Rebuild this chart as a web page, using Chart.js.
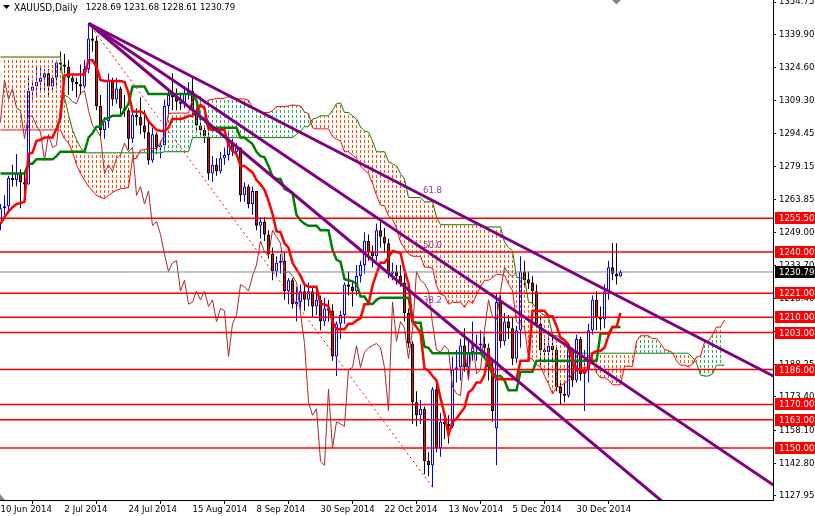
<!DOCTYPE html>
<html>
<head>
<meta charset="utf-8">
<script src="https://cdn.jsdelivr.net/npm/chart.js@4.4.1/dist/chart.umd.min.js"></script>
<style>
html,body{margin:0;padding:0;background:#ffffff;overflow:hidden;}
canvas{display:block;}
</style>
</head>
<body>
<canvas id="c" width="815" height="516"></canvas>
<script>
// ---------------- DATA ----------------
const symbolTitle = 'XAUUSD,Daily';
const tickBars = [0, 16, 32, 48, 64, 80, 96, 112, 128, 144];
const tickLabels = ['10 Jun 2014','2 Jul 2014','24 Jul 2014','15 Aug 2014','8 Sep 2014','30 Sep 2014','22 Oct 2014','13 Nov 2014','5 Dec 2014','30 Dec 2014'];
const priceTicks = [1354.75,1339.90,1324.60,1309.30,1294.45,1279.15,1263.85,1249.00,1233.70,1218.40,1203.55,1188.25,1173.40,1158.10,1142.80,1127.95];

const opens = [1253,1260,1261,1274,1273,1276,1272,1271,1314,1316,
1318,1320,1322,1316,1320,1327,1326,1325,1320,1318,
1317,1316,1324,1338,1337,1307,1296,1300,1319,1310,
1315,1306,1305,1292,1303,1302,1298,1295,1282,1294,
1288,1289,1307,1312,1311,1309,1308,1313,1314,1305,
1298,1296,1293,1276,1280,1277,1283,1284.5,1290,1286,
1288,1266,1270,1262,1268,1252,1254,1248,1239,1231,
1235,1236,1222,1227,1216,1217,1222,1218,1222,1215,
1218,1208,1214,1213,1192,1207,1211,1225,1224,1222,
1229,1234,1245,1240,1238,1250,1247,1244,1230,1231,
1229,1226,1212,1198,1171,1165,1168,1144,1142,1177,
1150,1162,1161,1160,1186,1187,1197,1187,1194,1196,
1197,1198,1196,1187,1159,1217,1199,1208,1205,1191,
1204,1231,1227.5,1226,1222,1207,1195,1194,1197,1195,
1178,1175,1174,1195,1181,1200,1184,1186,1204,1218,
1210,1209,1222,1233,1230,1228.69];

const highs = [1262,1266,1275,1280,1285,1278,1276,1321,1319,1325,
1325,1324,1324,1321,1328,1332,1331,1328,1321,1320,
1326,1328,1345,1344,1339,1312,1302,1322,1320,1320,
1316,1312,1306,1305,1306,1311,1305,1300,1297,1295,
1291,1310,1314,1322,1315,1312,1316,1318,1320,1306,
1301,1298,1296,1284,1283,1286,1288,1296,1292,1290,
1288,1272,1271,1270,1268,1256,1256,1250,1242,1238,
1239,1240,1228,1228,1224,1225,1225,1226,1224,1222,
1220,1219,1218,1216,1208,1213,1226,1231,1226,1234,
1236,1249,1248,1243,1253,1255,1251,1246,1235,1234,
1234,1230,1214,1199,1176,1172,1169,1148,1178,1180,
1166,1166,1165,1192,1195,1200,1205,1199,1208,1202,
1204,1201,1198,1191,1221,1220,1212,1211,1210,1206,
1238,1236,1231,1229,1225,1210,1200,1202,1202,1196,
1180,1180,1197,1196,1202,1201,1195,1207,1220,1222,
1215,1225,1236,1244,1244,1231.68];

const lows = [1250,1257,1258,1270,1270,1260,1265,1271,1310,1312,
1313,1314,1311,1313,1315,1323,1322,1312,1314,1311,
1312,1315,1322,1332,1305,1293,1292,1297,1307,1308,
1303,1302,1287,1290,1298,1294,1292,1280,1281,1285,
1283,1287,1303,1305,1305,1305,1306,1310,1303,1296,
1293,1290,1273,1272,1275,1276,1280,1282,1284,1284,
1263,1263,1260,1257,1250,1246,1245,1237,1227,1229,
1230,1218,1216,1214,1208,1214,1213,1215,1210,1211,
1204,1206,1208,1190,1183,1200,1207,1220,1215,1220,
1226,1230,1236,1233,1236,1242,1240,1228,1227,1225,
1224,1208,1196,1161,1160,1161,1138,1137,1132,1148,
1146,1154,1152,1159,1180,1181,1185,1182,1190,1190,
1193,1192,1181,1162,1142,1196,1197,1200,1188,1189,
1196,1224,1223,1216,1205,1188,1190,1183,1190,1176,
1170,1171,1173,1178,1180,1181,1167,1180,1202,1204,
1204,1205,1218,1227,1225,1228.61];

const closes = [1260,1261,1274,1273,1276,1272,1271,1314,1316,1318,
1320,1322,1316,1320,1327,1326,1325,1320,1318,1317,
1316,1324,1338,1337,1307,1296,1300,1319,1310,1315,
1306,1305,1292,1303,1302,1298,1295,1282,1294,1288,
1289,1307,1312,1311,1309,1308,1313,1314,1305,1298,
1296,1293,1276,1280,1277,1283,1284.5,1290,1286,1288,
1266,1270,1262,1268,1252,1254,1248,1239,1231,1235,
1236,1222,1227,1216,1217,1222,1218,1222,1215,1218,
1208,1214,1213,1192,1207,1211,1225,1224,1222,1229,
1234,1245,1240,1238,1250,1247,1244,1230,1231,1229,
1226,1212,1198,1171,1165,1168,1144,1142,1177,1150,
1162,1161,1160,1186,1187,1197,1187,1194,1196,1197,
1198,1196,1187,1167,1217,1199,1208,1205,1191,1204,
1231,1227,1225.5,1222,1207,1195,1194,1197,1195,1178,
1175,1174,1195,1181,1200,1184,1186,1204,1218,1210,
1209,1222,1233,1230,1228.7,1230.79];

// Ichimoku lines (Tenkan-sen, Kijun-sen) per bar
const tenkan = [1253,1256,1258.5,1260.5,1262,1262.5,1263,1285,1285.5,1291,
1291.5,1292.5,1292.5,1292.5,1296.5,1301.5,1321,1321.5,1321.5,1321.5,
1321.5,1321.5,1328,1328,1325,1319,1318.5,1318.5,1318.5,1318.5,
1318.5,1318,1313,1304.5,1304.5,1304.5,1303.5,1300,1298,1296,
1295.5,1295.5,1297,1301,1301,1301,1301.5,1302.5,1302.5,1304.5,
1307.5,1306,1296.5,1296,1296,1296,1296,1289,1286.5,1285,
1279.5,1279.5,1278,1276.5,1273,1271,1268.5,1263.5,1257.5,1249.5,
1249,1244,1242,1235,1232,1229,1225,1224,1224,1224,
1216,1216,1215,1208,1204.5,1204.5,1204.5,1207,1207,1208.5,
1209.5,1216,1216,1224.5,1230,1235,1235,1237.5,1240.5,1240,
1239.5,1231.5,1225.5,1208,1205.5,1203,1186.5,1185.5,1183,1181,
1173,1165.5,1156,1162,1163.5,1166,1168.5,1175.5,1177,1180,
1180,1183.5,1194,1185,1181.5,1181.5,1181.5,1181.5,1181.5,1181.5,
1190,1190,1190,1213,1213,1213,1213,1210.5,1210.5,1206,
1200.5,1199.5,1197.5,1190,1186,1186,1184.5,1187,1193.5,1194.5,
1194.5,1196,1201.5,1205.5,1205.5,1212];

const kijun = [1276,1276,1276,1276,1276,1276,1276,1280.5,1280.5,1282.5,
1282.5,1282.5,1282.5,1282.5,1284,1286,1286,1286,1286,1286,
1286,1286,1292.5,1294.5,1297.5,1297.5,1301,1301.5,1302.5,1302.5,
1302.5,1305,1308,1316,1316,1316,1316,1312.5,1312.5,1312.5,
1312.5,1312.5,1312.5,1312.5,1312.5,1312.5,1312.5,1312.5,1312,1309.5,
1301,1301,1297.5,1297,1297,1297,1297,1297,1297,1297,
1292.5,1292.5,1291,1289.5,1286,1284,1283.5,1279.5,1274.5,1273.5,
1273.5,1269,1268,1267,1257,1254.5,1253,1252,1252,1252,
1250,1250,1250,1241,1236.5,1235.5,1227.5,1227,1226.5,1225.5,
1219.5,1219.5,1216.5,1216,1218,1219,1219,1219,1219,1219,
1219,1219,1219,1208,1207.5,1207.5,1196.5,1196,1193.5,1193.5,
1193.5,1193.5,1193.5,1193.5,1193.5,1193.5,1193.5,1193.5,1193.5,1193.5,
1193.5,1191.5,1189,1183.5,1183,1183,1181,1176.5,1176.5,1176.5,
1185,1185,1185,1185,1190,1190,1190,1190,1190,1190,
1190,1190,1190,1190,1190,1190,1190,1190,1190,1190,
1202.5,1202.5,1202.5,1205.5,1205.5,1205.5];

// Senkou spans per bar (already plotted 26 bars ahead, bars 0..181)
const spanA = [1296,1296,1296,1296,1296,1296,1296,1296,1296,1296,1296,1296,1296,1296,1296,1296,
1292,1290,1286,1280,1276,1273,1270,1268,1266,1265,
1264.5,1266,1267.25,1268.25,1269,1269.25,1269.5,1282.75,1283,1286.75,
1287,1287.5,1287.5,1287.5,1290.25,1293.75,1303.5,1303.75,1303.75,1303.75,
1303.75,1303.75,1310.25,1311.25,1311.25,1308.25,1309.75,1310,1310.5,1310.5,
1310.5,1311.5,1310.5,1310.25,1310.25,1310.25,1309.75,1306.25,1305.25,1304.25,
1304,1304,1304.75,1306.75,1306.75,1306.75,1307,1307.5,1307.25,1307,
1304.25,1303.5,1297,1296.5,1296.5,1296.5,1296.5,1293,1291.75,1291,
1286,1286,1284.5,1283,1279.5,1277.5,1276,1271.5,1266,1261.5,
1261.25,1256.5,1255,1251,1244.5,1241.75,1239,1238,1238,1238,
1233,1233,1232.5,1224.5,1220.5,1220,1216,1217,1216.75,1217,
1214.5,1217.75,1216.25,1220.25,1224,1227,1227,1228.25,1229.75,1229.5,
1229.25,1225.25,1222.25,1208,1206.5,1205.25,1191.5,1190.75,1188.25,1187.25,
1183.25,1179.5,1174.75,1177.75,1178.5,1179.75,1181,1184.5,1185.25,1186.75,
1186.75,1187.5,1191.5,1184.25,1182.25,1182.25,1181.25,1179,1179,1179,
1187.5,1187.5,1187.5,1199,1201.5,1201.5,1201.5,1200.25,1200.25,1198,
1195.25,1194.75,1193.75,1190,1188,1188,1187.25,1188.5,1191.75,1192.25,
1198.5,1199.25,1202,1205.5,1205.5,1208.75];

const spanB = [1329.5,1329.5,1329.5,1329.5,1329.5,1329.5,1329.5,1329.5,1329.5,1329.5,1329.5,1329.5,1329.5,1329.5,1329.5,1329.5,
1311,1303,1296,1291.5,1288,
1285.5,1285.5,1285.5,1285.5,1285.5,1285.5,1285.5,1285.5,1285.5,1285.5,
1285.5,1285.5,1285.5,1285.5,1285.5,1285.5,1285.5,1285.5,1285.5,1285.5,
1286,1286,1286,1286,1286,1286,1286,
1292.5,1292.5,1292.5,1292.5,1292.5,1292.5,1292.5,1292.5,1292.5,1292.5,
1292.5,1292.5,1292.5,1292.5,1292.5,1292.5,1292.5,1292.5,1292.5,1292.5,
1292.5,1292.5,1292.5,1292.5,1292.5,1292.5,
1294,1295.5,1297.5,1297.5,1301,1301.5,1302.5,1302.5,1302.5,1305,
1308,1308.5,1304,1304,1302.5,1301,1297.5,1295.5,1295,1291,
1286,1286,1286,1281.5,1280.5,1279.5,1276,1273.5,1265,1265,
1265,1265,1263,1263,1263,1256,
1252.5,1252.5,1252.5,1252.5,1252.5,1252.5,1252.5,1252.5,1252.5,1252.5,1252.5,
1251.5,1251.5,1251.5,1251.5,1251.5,
1244.5,1242,1240.5,1228.5,1228,1228,1217,1216.5,1214,1212,
1211,1210,1202,1201.5,1201,1200,1194,1194,
1193.5,1193.5,1193.5,1193.5,1193.5,1193.5,1193.5,1193.5,1193.5,1193.5,
1193.5,1193.5,1193.5,1193.5,1193.5,1193.5,1193.5,1193.5,1193.5,1193.5,
1193.5,1193.5,1193.5,1193.5,1193.5,1193.5,1193.5,1193.5,1193.5,
1191.5,1189,1183.5,1183,1183,1184,1188,1188,1188];

const chikouShift = 26;
const levels = [1255.50, 1240.00, 1221.00, 1210.00, 1203.00, 1186.00, 1170.00, 1163.00, 1150.00];
// Fibonacci fan anchors (bar index, price) and levels
const fanStart = [22, 1345.0];
const fanEnd = [108, 1132.0];
const fanLevels = [61.8, 50.0, 38.2];

// ---------------- STYLE ----------------
const FONT = "'DejaVu Sans Condensed','Liberation Sans',Arial,sans-serif";
Chart.defaults.font.family = FONT;
Chart.defaults.font.size = 9.5;
Chart.defaults.color = '#000000';

const canvas = document.getElementById('c');
const ctx0 = canvas.getContext('2d');
function hatch(color) {
  const c = document.createElement('canvas');
  c.width = 4; c.height = 5;
  const g = c.getContext('2d');
  g.fillStyle = color;
  g.fillRect(0, 0, 1, 3);
  return ctx0.createPattern(c, 'repeat');
}
const orangeHatch = hatch('#ff4f00');
const greenHatch = hatch('#2eaa62');

const pts = arr => arr.map((v, i) => ({x: i, y: v}));
function lineDs(label, data, color, width, order, extra) {
  return Object.assign({type: 'line', label, data, borderColor: color, borderWidth: width,
    pointRadius: 0, pointHoverRadius: 0, fill: false, tension: 0, order, clip: 0}, extra || {});
}

const datasets = [];
// Fibonacci fan rays
fanLevels.forEach(lv => {
  const pEnd = fanEnd[1] + (fanStart[1] - fanEnd[1]) * lv / 100;
  const slope = (pEnd - fanStart[1]) / (fanEnd[0] - fanStart[0]);
  datasets.push(lineDs('fan ' + lv, [{x: fanStart[0], y: fanStart[1]}, {x: 200, y: fanStart[1] + slope * (200 - fanStart[0])}], '#800080', 3, 0));
});
// fan base line (dotted)
datasets.push(lineDs('fan base', [{x: fanStart[0], y: fanStart[1]}, {x: fanEnd[0], y: fanEnd[1]}], '#ff0000', 1, 1, {borderDash: [2, 3]}));
// horizontal levels
levels.forEach(lv => datasets.push(lineDs('level ' + lv, [{x: -2, y: lv}, {x: 200, y: lv}], '#ff0000', 1.5, 2)));
// current price line
const lastI = closes.length - 1;
datasets.push(lineDs('price', [{x: -2, y: closes[lastI]}, {x: 200, y: closes[lastI]}], '#778899', 1, 3));
// Ichimoku lines
datasets.push(lineDs('Tenkan', pts(tenkan), '#ff0000', 2.5, 4));
datasets.push(lineDs('Kijun', pts(kijun), '#008000', 2.5, 5));
datasets.push(lineDs('Chikou', closes.map((c, i) => ({x: i - chikouShift, y: c})), '#a52a2a', 1, 6));
// cloud
const spanBIndex = datasets.length;
datasets.push(lineDs('Senkou B', pts(spanB), '#008000', 1, 8));
datasets.push(lineDs('Senkou A', pts(spanA), '#ff0000', 1, 7,
  {fill: {target: spanBIndex, above: greenHatch, below: orangeHatch}}));
// candles
const up = i => closes[i] >= opens[i];
datasets.push({type: 'bar', label: 'bodies', data: opens.map((o, i) => ({x: i, y: [o, closes[i]]})),
  backgroundColor: opens.map((o, i) => up(i) ? '#ffffff' : '#ff0000'),
  borderColor: opens.map((o, i) => up(i) ? '#0000ff' : '#000000'),
  borderWidth: 1, borderSkipped: false, barThickness: 3, grouped: false, inflateAmount: 0, order: 9});
datasets.push({type: 'bar', label: 'wicks', data: highs.map((h, i) => ({x: i, y: [lows[i], h]})),
  backgroundColor: highs.map((h, i) => up(i) ? '#0000ff' : '#000000'),
  borderWidth: 0, barThickness: 1, grouped: false, inflateAmount: 0, order: 10});

const decor = {
  id: 'decor',
  afterDraw(chart) {
    const {ctx} = chart;
    const xs = chart.scales.x, ys = chart.scales.y;
    ctx.save();
    ctx.textBaseline = 'middle';
    // fib labels
    ctx.font = '9.5px ' + FONT;
    ctx.textAlign = 'center';
    ctx.fillStyle = '#8e3a9e';
    fanLevels.forEach(lv => {
      const p = fanEnd[1] + (fanStart[1] - fanEnd[1]) * lv / 100;
      ctx.fillText(lv.toFixed(1), xs.getPixelForValue(fanEnd[0]), ys.getPixelForValue(p) - 9.5);
    });
    // level price tags
    ctx.textAlign = 'left';
    const tag = (v, bg) => {
      const py = Math.round(ys.getPixelForValue(v));
      ctx.fillStyle = bg;
      ctx.fillRect(xs.right + 2, py - 6, 42, 12);
      ctx.fillStyle = '#ffffff';
      ctx.fillText(v.toFixed(2), xs.right + 6, py + 0.5);
    };
    levels.forEach(v => tag(v, '#ff0000'));
    tag(closes[lastI], '#000000');
    // title
    ctx.fillStyle = '#000000';
    ctx.beginPath(); ctx.moveTo(3, 5); ctx.lineTo(10, 5); ctx.lineTo(6.5, 9); ctx.closePath(); ctx.fill();
    ctx.font = '10px ' + FONT;
    ctx.fillText(symbolTitle, 14, 8);
    const w = ctx.measureText(symbolTitle).width;
    ctx.font = '9.5px ' + FONT;
    ctx.fillText([opens[lastI], highs[lastI], lows[lastI], closes[lastI]].map(v => v.toFixed(2)).join(' '), 14 + w + 8, 8);
    // shift markers
    ctx.fillStyle = '#778899';
    const sx = xs.getPixelForValue(lastI - 1);
    ctx.beginPath(); ctx.moveTo(sx - 4.5, 0); ctx.lineTo(sx + 4.5, 0); ctx.lineTo(sx, 4.5); ctx.closePath(); ctx.fill();
    ctx.beginPath(); ctx.moveTo(0, ys.bottom - 6); ctx.lineTo(5, ys.bottom); ctx.lineTo(0, ys.bottom); ctx.closePath(); ctx.fill();
    ctx.restore();
  }
};

new Chart(canvas, {
  type: 'line',
  data: {datasets},
  options: {
    responsive: false,
    animation: false,
    devicePixelRatio: 1,
    events: [],
    layout: {padding: 0, autoPadding: false},
    plugins: {legend: {display: false}, tooltip: {enabled: false}, title: {display: false}},
    scales: {
      x: {
        type: 'linear', position: 'bottom', min: -0.125, max: 193.125, offset: false,
        grid: {display: true, drawOnChartArea: false, drawTicks: true, tickLength: 4, color: '#000000', lineWidth: 1},
        border: {display: true, color: '#000000', width: 1},
        ticks: {autoSkip: false, maxRotation: 0, minRotation: 0, align: 'start', padding: 0, color: '#000000',
          font: {family: FONT, size: 9.5},
          callback: (v, i) => tickLabels[i]},
        afterBuildTicks: s => { s.ticks = tickBars.map(v => ({value: v})); },
        afterFit: s => { s.height = 16; s.paddingLeft = 0; s.paddingRight = 0; }
      },
      y: {
        type: 'linear', position: 'right', min: 1126.1, max: 1355.67,
        grid: {display: true, drawOnChartArea: false, drawTicks: true, tickLength: 3, color: '#000000', lineWidth: 1},
        border: {display: true, color: '#000000', width: 1},
        ticks: {autoSkip: false, padding: 3, color: '#000000', font: {family: FONT, size: 9.5},
          callback: v => Number(v).toFixed(2)},
        afterBuildTicks: s => { s.ticks = priceTicks.map(v => ({value: v})); },
        afterFit: s => { s.width = 42; s.paddingTop = 0; s.paddingBottom = 0; }
      }
    }
  },
  plugins: [decor]
});
</script>
</body>
</html>
